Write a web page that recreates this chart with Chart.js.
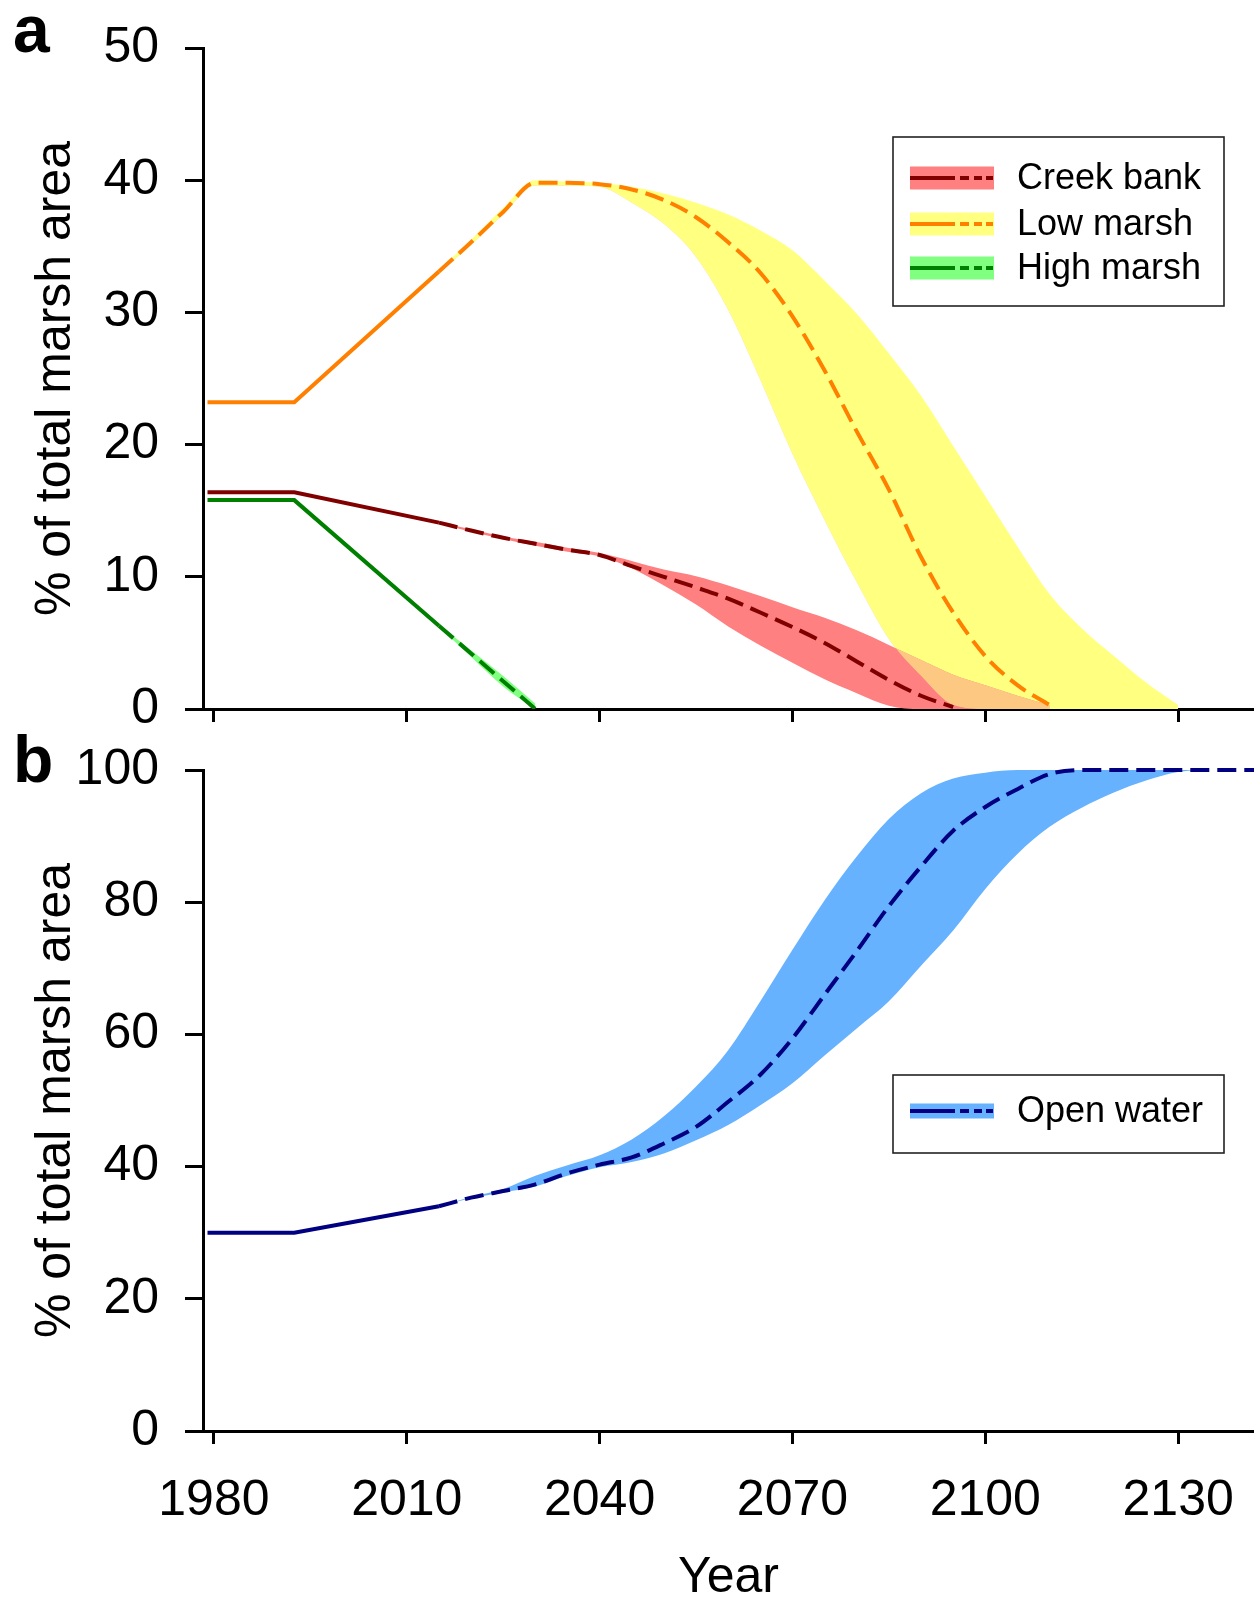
<!DOCTYPE html>
<html><head><meta charset="utf-8">
<script src="https://cdn.jsdelivr.net/npm/chart.js@4.4.1/dist/chart.umd.min.js"></script>
<style>
html,body{margin:0;padding:0;background:#fff;}
#wrap{position:relative;width:1254px;height:1606px;overflow:hidden;background:#fff;}
#c1{position:absolute;left:0;top:0;}
#c2{position:absolute;left:0;top:725px;}
</style></head><body>
<div id="wrap"><canvas id="c1" width="1254" height="760"></canvas><canvas id="c2" width="1254" height="881"></canvas></div>
<script>
// ---------- DATA ----------
const N = null;
const xTickValues = [1980, 2010, 2040, 2070, 2100, 2130];
const yTicksTop = [0, 10, 20, 30, 40, 50];
const yTicksBottom = [0, 20, 40, 60, 80, 100];

// observed period (solid lines)
const histYears = [1979, 1992.5, 2015];
const creekBankHist = [16.4, 16.4, 14.1];
const lowMarshHist = [23.2, 23.2, 33.1];
const highMarshHist = [15.8, 15.8, 6.3];
const openWaterHist = [30.0, 30.0, 34.0];

// projections (dashed lines and ranges)
const projYears = [2015, 2020, 2025, 2030, 2035, 2040, 2045, 2050, 2055, 2060, 2065, 2070, 2075, 2080,
                   2085, 2090, 2095, 2100, 2105, 2110, 2115, 2120, 2125, 2130, 2135, 2140, 2145];

const lowMarshMedian = [33.1, 35.3, 37.6, 39.8, 39.8, 39.7, 39.3, 38.5, 37.2, 35.3, 33.0, 29.7, 25.6, 21.0,
                        16.6, 11.5, 7.3, 4.0, 1.8, 0.3, N, N, N, N, N, N, N];
const lowMarshUpper  = [33.2, 35.5, 37.9, 40.0, 39.9, 39.8, 39.5, 39.0, 38.3, 37.4, 36.2, 34.7, 32.4, 29.9,
                        26.9, 23.7, 19.9, 16.1, 12.3, 8.7, 6.1, 4.0, 2.0, 0.3, N, N, N];
const lowMarshLower  = [33.0, 35.1, 37.4, 39.6, 39.6, 39.5, 38.3, 36.7, 34.2, 30.2, 24.9, 19.3, 14.3, 9.6,
                        5.3, 2.5, 0.3, 0, 0, 0, 0, 0, 0, 0, N, N, N];

const creekBankMedian = [14.1, 13.5, 12.95, 12.5, 12.05, 11.65, 10.8, 10.0, 9.2, 8.35, 7.3, 6.2, 5.0, 3.6,
                         2.2, 1.0, 0.15, N, N, N, N, N, N, N, N, N, N];
const creekBankUpper  = [14.15, 13.6, 13.05, 12.65, 12.2, 11.8, 11.2, 10.55, 10.05, 9.35, 8.55, 7.7, 6.9, 5.95,
                         4.85, 3.7, 2.6, 1.8, 1.0, 0.3, N, N, N, N, N, N, N];
const creekBankLower  = [14.05, 13.4, 12.85, 12.35, 11.9, 11.55, 10.65, 9.35, 7.9, 6.25, 4.8, 3.5, 2.25, 1.2,
                         0.25, 0, 0, 0, 0, 0, N, N, N, N, N, N, N];

const highMarshMedian = [6.3, 4.2, 2.1, 0.0, N, N, N, N, N, N, N, N, N, N, N, N, N, N, N, N, N, N, N, N, N, N, N];
const highMarshUpper  = [6.35, 4.45, 2.5, 0.4, N, N, N, N, N, N, N, N, N, N, N, N, N, N, N, N, N, N, N, N, N, N, N];
const highMarshLower  = [6.25, 3.95, 1.7, 0, N, N, N, N, N, N, N, N, N, N, N, N, N, N, N, N, N, N, N, N, N, N, N];

const openWaterMedian = [34.0, 35.3, 36.3, 37.3, 39.0, 40.3, 41.4, 43.5, 46.0, 49.8, 53.9, 59.4, 66.0, 72.6,
                         79.4, 85.4, 90.8, 94.4, 97.1, 99.4, 100, 100, 100, 100, 100, 100, 100];
const openWaterUpper  = [34.0, 35.4, 36.6, 38.6, 40.2, 41.7, 44.1, 47.6, 52.1, 57.6, 65.0, 72.8, 80.3, 86.9,
                         92.6, 96.5, 98.7, 99.6, 100, 100, 100, 100, 100, 100, 100, 100, 100];
const openWaterLower  = [34.0, 35.2, 36.1, 37.0, 38.6, 39.9, 40.7, 42.0, 44.0, 46.3, 49.3, 52.6, 56.8, 60.9,
                         65.0, 70.4, 75.7, 82.0, 87.3, 91.4, 94.3, 96.6, 98.4, 99.7, 100, 100, 100];

const legendTopLabels = ['Creek bank', 'Low marsh', 'High marsh'];
const legendBottomLabels = ['Open water'];

// ---------- STYLE ----------
const FONT = "'Liberation Sans', Arial, Helvetica, sans-serif";
const C = {
  creekLine: '#800000', creekBand: '#FF8080',
  lowLine: '#FF8000', lowBand: '#FFFF80',
  highLine: '#008000', highBand: '#80FF80',
  waterLine: '#000080', waterBand: '#66B2FF',
  overlap: '#FCC882'
};
const DASH = [19, 8];
const LW = 4;
const T = 'rgba(0,0,0,0)';

function pts(xs, ys) { return xs.map((x, i) => ({x: x, y: ys[i]})); }
function bandDs(ys, fill, color, order) {
  return {data: pts(projYears, ys), fill: fill, backgroundColor: color, borderColor: T, borderWidth: 0,
          pointRadius: 0, cubicInterpolationMode: 'monotone', order: order};
}
function lineDs(xs, ys, color, dashed) {
  return {data: pts(xs, ys), fill: false, borderColor: color, borderWidth: LW, pointRadius: 0,
          borderDash: dashed ? DASH : [], borderCapStyle: 'butt',
          cubicInterpolationMode: dashed ? 'monotone' : 'default', tension: 0, order: 1,
          clip: {left: 8, top: 8, right: 8, bottom: 0}};
}

function legendPlugin(id, labels, fills, lines, box, rows, swH) {
  return {
    id: id,
    afterDraw(chart) {
      const ctx = chart.ctx;
      ctx.save();
      ctx.fillStyle = '#fff';
      ctx.fillRect(box.x, box.y, box.w, box.h);
      ctx.strokeStyle = '#222';
      ctx.lineWidth = 1.6;
      ctx.strokeRect(box.x, box.y, box.w, box.h);
      labels.forEach((lab, i) => {
        const y = rows[i];
        ctx.fillStyle = fills[i];
        ctx.fillRect(910, y - swH / 2, 84, swH);
        ctx.strokeStyle = lines[i];
        ctx.lineWidth = 4;
        ctx.beginPath();
        ctx.moveTo(910, y); ctx.lineTo(955, y);
        ctx.moveTo(960, y); ctx.lineTo(969, y);
        ctx.moveTo(974, y); ctx.lineTo(982, y);
        ctx.moveTo(986, y); ctx.lineTo(993, y);
        ctx.stroke();
        ctx.fillStyle = '#000';
        ctx.font = '36px ' + FONT;
        ctx.textAlign = 'left';
        ctx.textBaseline = 'middle';
        ctx.fillText(lab, 1017, y + 1);
      });
      ctx.restore();
    }
  };
}
function letterPlugin(id, letter, x, y) {
  return {
    id: id,
    afterDraw(chart) {
      const ctx = chart.ctx;
      ctx.save();
      ctx.fillStyle = '#000';
      ctx.font = 'bold 66px ' + FONT;
      ctx.textAlign = 'left';
      ctx.textBaseline = 'alphabetic';
      ctx.fillText(letter, x, y);
      ctx.restore();
    }
  };
}

function xScale(showLabels, height) {
  return {
    type: 'linear', min: 1978.3, max: 2141.8, z: 1,
    afterBuildTicks: s => { s.ticks = xTickValues.map(v => ({value: v})); },
    ticks: {display: showLabels, autoSkip: false, maxRotation: 0, minRotation: 0, color: '#000',
            font: {family: FONT, size: 50}, padding: 27, callback: v => String(v)},
    grid: {drawOnChartArea: false, drawTicks: true, tickLength: 13, color: '#000', lineWidth: 3},
    border: {display: true, color: '#000', width: 3},
    title: {display: showLabels, text: 'Year', color: '#000', font: {family: FONT, size: 50, lineHeight: 1},
            padding: {top: 0, bottom: 3}},
    afterFit: s => { s.height = height; s.paddingLeft = 0; s.paddingRight = 0; }
  };
}
function yScale(maxV, ticks) {
  return {
    type: 'linear', min: 0, max: maxV, z: 1,
    afterBuildTicks: s => { s.ticks = ticks.map(v => ({value: v})); },
    ticks: {color: '#000', font: {family: FONT, size: 50}, padding: 26},
    grid: {drawOnChartArea: false, drawTicks: true, tickLength: 18, color: '#000', lineWidth: 3},
    border: {display: true, color: '#000', width: 3},
    title: {display: true, text: '% of total marsh area', color: '#000',
            font: {family: FONT, size: 50, lineHeight: 1}, padding: {top: 31, bottom: 0}},
    afterFit: s => { s.width = 203; s.paddingTop = 0; s.paddingBottom = 0; }
  };
}
const common = {
  responsive: false, maintainAspectRatio: false, animation: false, events: [],
  plugins: {legend: {display: false}, tooltip: {enabled: false}},
  elements: {point: {radius: 0, hoverRadius: 0}}
};

// ---------- TOP CHART (a) ----------
new Chart(document.getElementById('c1'), {
  type: 'line',
  data: {datasets: [
    bandDs(lowMarshUpper, 1, C.lowBand, 10),            // 0
    bandDs(lowMarshLower, false, T, 10),                 // 1
    bandDs(creekBankUpper, 3, C.creekBand, 9),           // 2
    bandDs(creekBankLower, false, T, 9),                 // 3
    bandDs(highMarshUpper, 5, C.highBand, 9),            // 4
    bandDs(highMarshLower, false, T, 9),                 // 5
    bandDs(creekBankUpper, {target: 1, above: C.overlap, below: T}, C.overlap, 8), // 6 overlap
    lineDs(histYears, lowMarshHist, C.lowLine, false),
    lineDs(projYears, lowMarshMedian, C.lowLine, true),
    lineDs(histYears, creekBankHist, C.creekLine, false),
    lineDs(projYears, creekBankMedian, C.creekLine, true),
    lineDs(histYears, highMarshHist, C.highLine, false),
    lineDs(projYears, highMarshMedian, C.highLine, true)
  ]},
  options: Object.assign({}, common, {
    layout: {autoPadding: false, padding: {top: 48, left: 0, right: 0, bottom: 0}},
    scales: {x: xScale(false, 51), y: yScale(50, yTicksTop)}
  }),
  plugins: [
    legendPlugin('legA', legendTopLabels, [C.creekBand, C.lowBand, C.highBand],
                 [C.creekLine, C.lowLine, C.highLine], {x: 893, y: 137, w: 331, h: 169}, [178, 224, 268], 23),
    letterPlugin('letA', 'a', 13, 52)
  ]
});

// ---------- BOTTOM CHART (b) ----------
new Chart(document.getElementById('c2'), {
  type: 'line',
  data: {datasets: [
    bandDs(openWaterUpper, 1, C.waterBand, 10),
    bandDs(openWaterLower, false, T, 10),
    lineDs(histYears, openWaterHist, C.waterLine, false),
    lineDs(projYears, openWaterMedian, C.waterLine, true)
  ]},
  options: Object.assign({}, common, {
    layout: {autoPadding: false, padding: {top: 45, left: 0, right: 0, bottom: 0}},
    scales: {x: xScale(true, 175), y: yScale(100, yTicksBottom)}
  }),
  plugins: [
    legendPlugin('legB', legendBottomLabels, [C.waterBand], [C.waterLine],
                 {x: 893, y: 350, w: 331, h: 78}, [386], 15),
    letterPlugin('letB', 'b', 13, 57)
  ]
});
</script>
</body></html>
